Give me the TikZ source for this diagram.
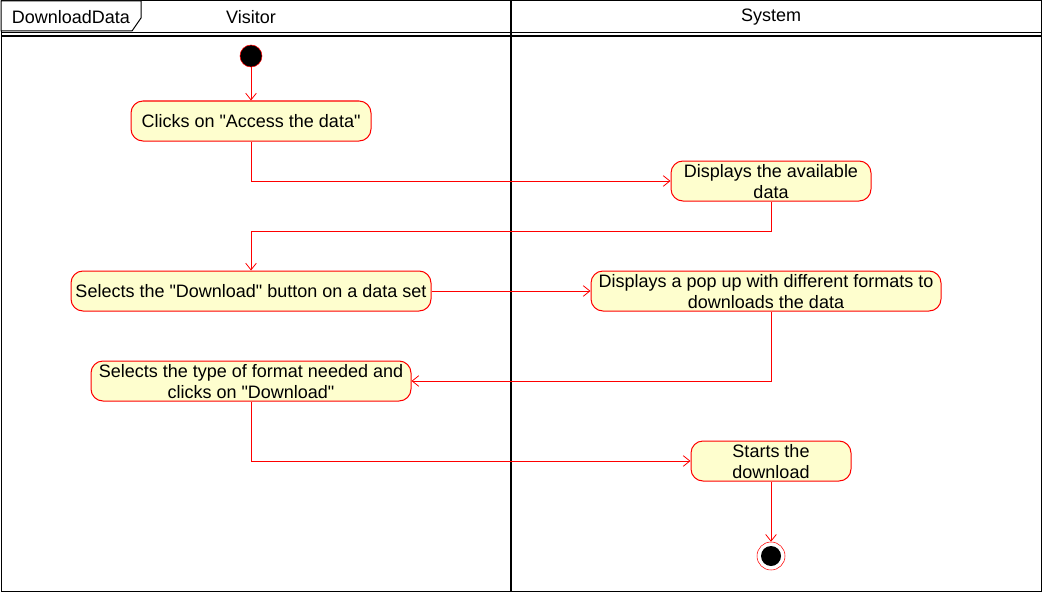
\documentclass[tikz,border=0pt]{standalone}
\usepackage{fontspec}
\setmainfont{Liberation Sans}
\usetikzlibrary{arrows.meta}

\definecolor{actfill}{HTML}{FEFECE}
\newcommand{\dq}{\textquotedbl}

\tikzset{
  action/.style={draw=red, fill=actfill, rounded corners=9pt, minimum height=30pt,
    line width=0.75pt, align=center, inner sep=0pt, text depth=-1pt,
    font=\fontsize{13.5}{15.75}\selectfont},
  flow/.style={draw=red, line width=0.6pt, -{Straight Barb[length=5pt,width=8pt]}},
  lane/.style={line width=0.75pt},
  title/.style={font=\fontsize{13.5}{15}\selectfont},
}

\begin{document}
\begin{tikzpicture}[x=0.75pt, y=-0.75pt]
    \useasboundingbox (0,0) rectangle (1042,592);

    % frame and swimlanes
    \draw[lane] (1,1) rectangle (1041,591);
    \draw[lane] (1,33) -- (1041,33);
    \draw[line width=1pt] (1,36) -- (1041,36);
    \draw[line width=1.2pt] (511,1) -- (511,591);
    \draw[lane, fill=white] (1,1) -- (141,1) -- (141,18) -- (132,31) -- (1,31) -- cycle;
    \node[title] (frame) at (71,17) {DownloadData};
    \node[title] (visitor) at (251,17) {Visitor};
    \node[title] (system) at (771,17) {System};

    % start and end
    \node[circle, fill=black, draw=red, minimum size=16.5pt, inner sep=0pt] (start) at (251,56) {};
    \node[circle, draw=red, fill=white, minimum size=21pt, inner sep=0pt] (stop) at (771,556) {};
    \fill[black] (stop) circle (7.5pt);

    % actions
    \node[action, minimum width=180pt] (access) at (251,121) {Clicks on \dq Access the data\dq};
    \node[action, minimum width=150pt] (avail) at (771,181) {Displays the available\\data};
    \node[action, minimum width=270pt] (dlbtn) at (251,291) {Selects the \dq Download\dq{} button on a data set};
    \node[action, minimum width=262.5pt] (popup) at (766,291) {Displays a pop up with different formats to\\downloads the data};
    \node[action, minimum width=240pt] (format) at (251,381) {Selects the type of format needed and\\clicks on \dq Download\dq};
    \node[action, minimum width=120pt] (starts) at (771,461) {Starts the\\download};

    % flows
    \draw[flow] (start) -- (access);
    \draw[flow] (access.south) |- (avail.west);
    \draw[flow] (avail.south) -- ++(0,30) -| (dlbtn.north);
    \draw[flow] (dlbtn.east) -- (popup.west);
    \draw[flow] (popup.south -| avail.south) |- (format.east);
    \draw[flow] (format.south) |- (starts.west);
    \draw[flow] (starts) -- (stop);
  \end{tikzpicture}
\end{document}
